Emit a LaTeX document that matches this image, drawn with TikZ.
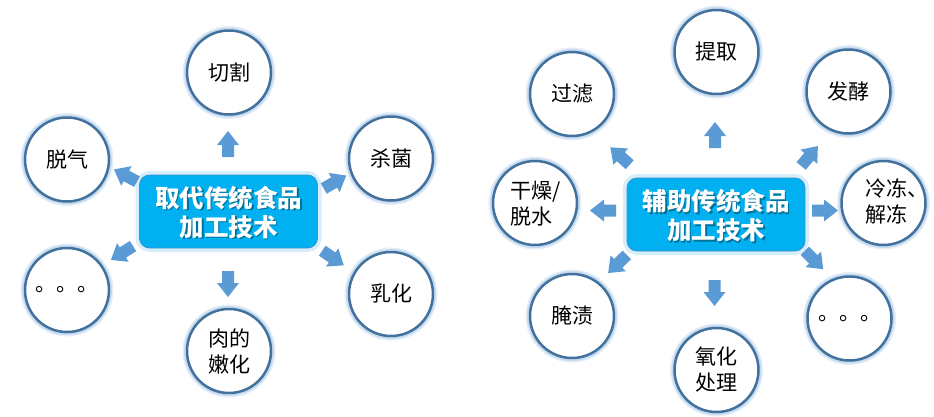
\documentclass[tikz,border=0pt]{standalone}
\usepackage{fontspec}
\setmainfont{Noto Sans CJK SC}
\definecolor{ringblue}{HTML}{41719C}
\definecolor{glowblue}{HTML}{9DC3E6}
\definecolor{arrowblue}{HTML}{5B9BD5}
\definecolor{boxblue}{HTML}{00B0F0}
\definecolor{boxedge}{HTML}{3A93C9}
\definecolor{boxglow}{HTML}{BDE3F8}
\newcommand\blkarrow[4]{%
  \coordinate (#1) at (#2,#3);
  \fill[arrowblue, shift={(#2,#3)}, rotate=#4]
    (-13,-6) -- (-1,-6) -- (-1,-11) -- (13,0) -- (-1,11) -- (-1,6) -- (-13,6) -- cycle;
}
\begin{document}
\begin{tikzpicture}[x=1pt,y=-1pt,
  circ/.style={circle, draw=ringblue, line width=2.5pt, fill=white,
    minimum size=84pt, inner sep=0pt, align=center,
    font=\fontsize{21}{26}\selectfont,
    preaction={draw=glowblue, line width=9pt, opacity=0.25},
    preaction={draw=glowblue, line width=6pt, opacity=0.45}},
  txt/.style={inner sep=0pt, align=left, font=\fontsize{21}{26}\selectfont},
  mainbox/.style={rounded corners=10pt, fill=boxblue, draw=boxedge, line width=0.8pt,
    minimum width=178pt, minimum height=73pt, inner sep=0pt,
    preaction={draw=boxglow, line width=8pt, opacity=0.6}},
  boxtext/.style={inner sep=0pt, align=center, text=white,
    font=\bfseries\fontsize{24.5}{29}\selectfont},
  boxshadow/.style={boxtext, text=black, opacity=0.35}
]
\fill[white] (0,0) rectangle (934,416);
\useasboundingbox (0,0) rectangle (934,416);

% ---------- left cluster ----------
\node[circ] (qiege) at (229,72.5) {切割};
\node[circ] (tuoqi) at (67,159.5) {脱气};
\node[circ] (shajun) at (391,158.5) {杀菌};
\node[circ] (ldots) at (67,290) {。。。};
\node[circ] (ruhua) at (391,294) {乳化};
\node[circ] (nenhua) at (229,351) {肉的\\嫩化};

\node[mainbox] (L) at (228.5,211.5) {};
\node[boxshadow] (Ls) at (230,213.5) {取代传统食品\\加工技术};
\node[boxtext] (Lt) at (228.5,212) {取代传统食品\\加工技术};

\blkarrow{la1}{228}{144}{90}
\blkarrow{la2}{125.5}{175.5}{152}
\blkarrow{la3}{335}{182}{30}
\blkarrow{la4}{122}{253}{212}
\blkarrow{la5}{333}{258}{326}
\blkarrow{la6}{228}{284}{270}

% ---------- right cluster ----------
\node[circ] (tiqu) at (716.5,52) {提取};
\node[circ] (guolv) at (572,94) {过滤};
\node[circ] (fajiao) at (848.5,91.5) {发酵};
\node[circ] (ganzao) at (535,203) {};
\node[txt, anchor=west] (ganzaot) at (510,203.5) {干燥/\\脱水};
\node[circ] (lengdong) at (883.5,203) {};
\node[txt, anchor=west] (lengdongt) at (865,201.5) {冷冻、\\解冻};
\node[circ] (yanzi) at (572,316) {腌渍};
\node[circ] (yanghua) at (716.5,370) {氧化\\处理};
\node[circ] (rdots) at (849.5,318.5) {。。。};

\node[mainbox] (R) at (716,214.5) {};
\node[boxshadow] (Rs) at (717.5,217) {辅助传统食品\\加工技术};
\node[boxtext] (Rt) at (716,215.5) {辅助传统食品\\加工技术};

\blkarrow{ra1}{715}{135}{90}
\blkarrow{ra2}{620}{156}{138}
\blkarrow{ra3}{809.5}{156}{50}
\blkarrow{ra4}{603}{210.5}{180}
\blkarrow{ra5}{825}{210.5}{0}
\blkarrow{ra6}{617.5}{264}{224}
\blkarrow{ra7}{814}{260}{315}
\blkarrow{ra8}{714.5}{293}{270}
\end{tikzpicture}
\end{document}
